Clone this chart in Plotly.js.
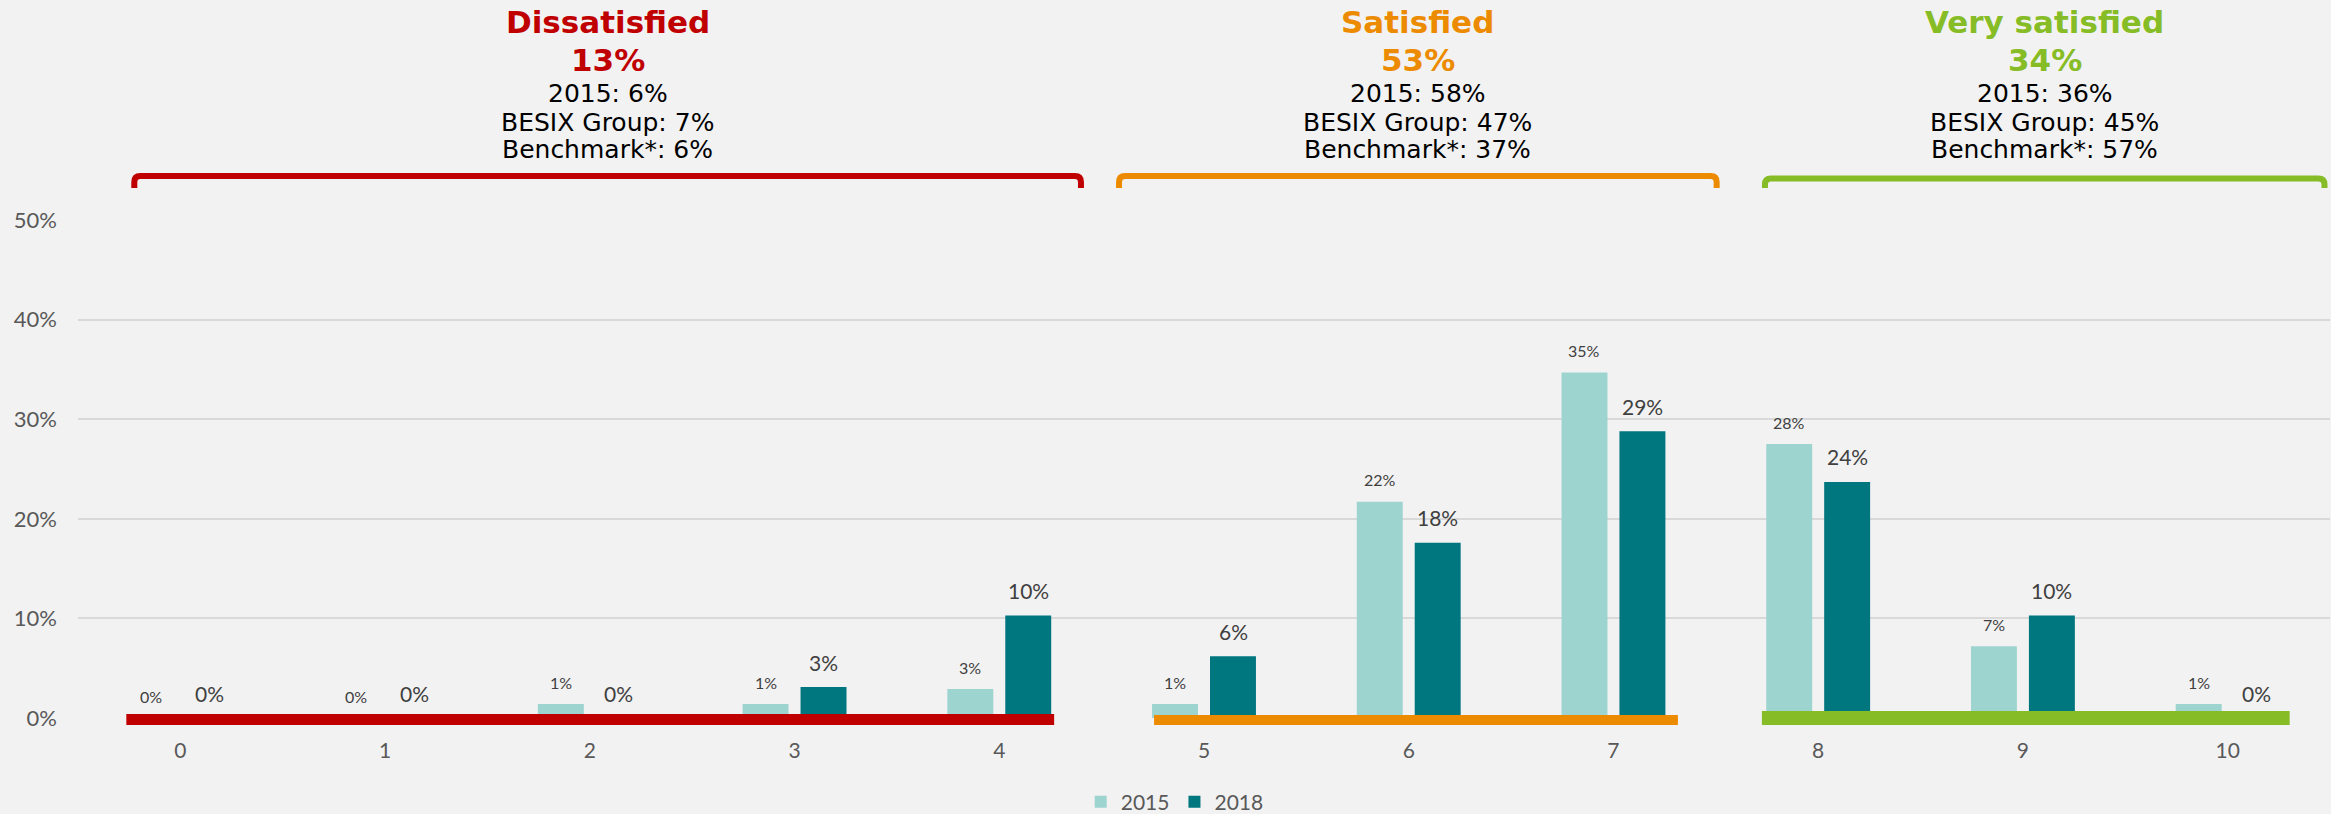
<!DOCTYPE html>
<html>
<head>
<meta charset="utf-8">
<script src="https://cdn.plot.ly/plotly-3.0.1.min.js"></script>
<style>
  html, body { margin: 0; padding: 0; background: #F2F2F2; }
  #chart { width: 2331px; height: 814px; }
</style>
</head>
<body>
<div id="chart"></div>
<script>
// ---------------- DATA ----------------
const categories = ['0', '1', '2', '3', '4', '5', '6', '7', '8', '9', '10'];
const seriesNames = ['2015', '2018'];
const values2015 = [0, 0, 0.014, 0.014, 0.029, 0.014, 0.217, 0.347, 0.275, 0.072, 0.014];
const values2018 = [0, 0, 0, 0.031, 0.103, 0.062, 0.176, 0.288, 0.237, 0.103, 0];

const groupNames = ['Dissatisfied', 'Satisfied', 'Very satisfied'];
const groupTotals = [13, 53, 34];
const group2015 = [6, 58, 36];
const groupBesix = [7, 47, 45];
const groupBenchmark = [6, 37, 57];

// ---------------- STYLE / LAYOUT ----------------
const colors = ['#9ED4CF', '#00767F'];
const groupColors = ['#C00000', '#ED8B00', '#86BC25'];
const W = 2331, H = 814;
const PLOT_TOP = 220, PLOT_BOTTOM = 718;
const plotH = PLOT_BOTTOM - PLOT_TOP;
const py = p => (PLOT_BOTTOM - p) / plotH;   // pixel row -> paper y

// group extents (x in axis units)
const bands = [[-0.264, 4.268], [4.756, 7.315], [7.725, 10.303]];
const bandY = [[714, 725], [715, 725], [711, 725]];
const brackets = [[-0.225, 4.399], [4.585, 7.504], [7.740, 10.473]];
const bracketTop = [176, 176, 178.5];
const bracketBottom = 188;

const pct = v => Math.round(v * 100) + '%';

const traces = [values2015, values2018].map((vals, k) => ({
  type: 'bar',
  name: seriesNames[k],
  x: categories,
  y: vals,
  marker: { color: colors[k], line: { width: 0 } },
  hoverinfo: 'skip'
}));

const annotations = [];
const labelFont = [
  { family: 'Lato, sans-serif', size: 16, color: '#404040' },
  { family: 'Lato, sans-serif', size: 21, color: '#404040' }
];
const xShift = [-29, 29];
const yShift = [22, 25];
[values2015, values2018].forEach((vals, k) => {
  vals.forEach((v, i) => {
    annotations.push({
      x: categories[i], y: v, xref: 'x', yref: 'y',
      text: pct(v), showarrow: false,
      xanchor: 'center', yanchor: 'middle',
      xshift: xShift[k], yshift: yShift[k],
      font: labelFont[k]
    });
  });
});

const shapes = [];
groupNames.forEach((g, j) => {
  const c = groupColors[j];
  const xc = (brackets[j][0] + brackets[j][1]) / 2;
  const lines = [
    { text: '<b>' + g + '</b>', size: 31, color: c, center: 22.3 },
    { text: '<b>' + groupTotals[j] + '%</b>', size: 31, color: c, center: 60.3 },
    { text: '2015: ' + group2015[j] + '%', size: 25, color: '#000000', center: 93.4 },
    { text: 'BESIX Group: ' + groupBesix[j] + '%', size: 25, color: '#000000', center: 122.4 },
    { text: 'Benchmark*: ' + groupBenchmark[j] + '%', size: 25, color: '#000000', center: 149.4 }
  ];
  lines.forEach(L => {
    annotations.push({
      x: xc, y: py(L.center), xref: 'x', yref: 'paper',
      text: L.text, showarrow: false, xanchor: 'center', yanchor: 'middle',
      font: { family: 'DejaVu Sans, Verdana, sans-serif', size: L.size, color: L.color }
    });
  });
  const x0 = brackets[j][0], x1 = brackets[j][1];
  const yt = py(bracketTop[j]), yb = py(bracketBottom);
  const rx = 6 / 204.8, ry = 6 / plotH;
  shapes.push({
    type: 'path', xref: 'x', yref: 'paper',
    path: `M ${x0},${yb} L ${x0},${yt - ry} Q ${x0},${yt} ${x0 + rx},${yt} L ${x1 - rx},${yt} Q ${x1},${yt} ${x1},${yt - ry} L ${x1},${yb}`,
    line: { color: c, width: 6 }
  });
  shapes.push({
    type: 'rect', xref: 'x', yref: 'paper',
    x0: bands[j][0], x1: bands[j][1],
    y0: py(bandY[j][1]), y1: py(bandY[j][0]),
    fillcolor: c, line: { width: 0 }, layer: 'above'
  });
});

const layout = {
  width: W, height: H,
  paper_bgcolor: '#F2F2F2', plot_bgcolor: '#F2F2F2',
  margin: { l: 78, r: 1, t: PLOT_TOP, b: H - PLOT_BOTTOM, pad: 0, autoexpand: false },
  barmode: 'group', bargap: 0.434, bargroupgap: 0.207,
  showlegend: true,
  legend: {
    orientation: 'h', x: 0.487, xanchor: 'center', y: py(802), yanchor: 'middle',
    font: { family: 'Lato, sans-serif', size: 21, color: '#595959' },
    bgcolor: 'rgba(0,0,0,0)', itemwidth: 30
  },
  xaxis: {
    type: 'category', range: [-0.5, 10.5], showgrid: false, zeroline: false,
    showline: false, ticks: '', ticklabelstandoff: 18,
    tickfont: { family: 'Lato, sans-serif', size: 21, color: '#595959' },
    fixedrange: true
  },
  yaxis: {
    range: [0, 0.5], dtick: 0.1, tickformat: '.0%',
    showgrid: true, gridcolor: '#D9D9D9', gridwidth: 2,
    zeroline: false, showline: false, ticks: '', ticklabelstandoff: 20,
    tickfont: { family: 'Lato, sans-serif', size: 22, color: '#595959' },
    fixedrange: true
  },
  annotations: annotations,
  shapes: shapes
};

Plotly.newPlot('chart', traces, layout, { displayModeBar: false, staticPlot: true });
</script>
</body>
</html>
